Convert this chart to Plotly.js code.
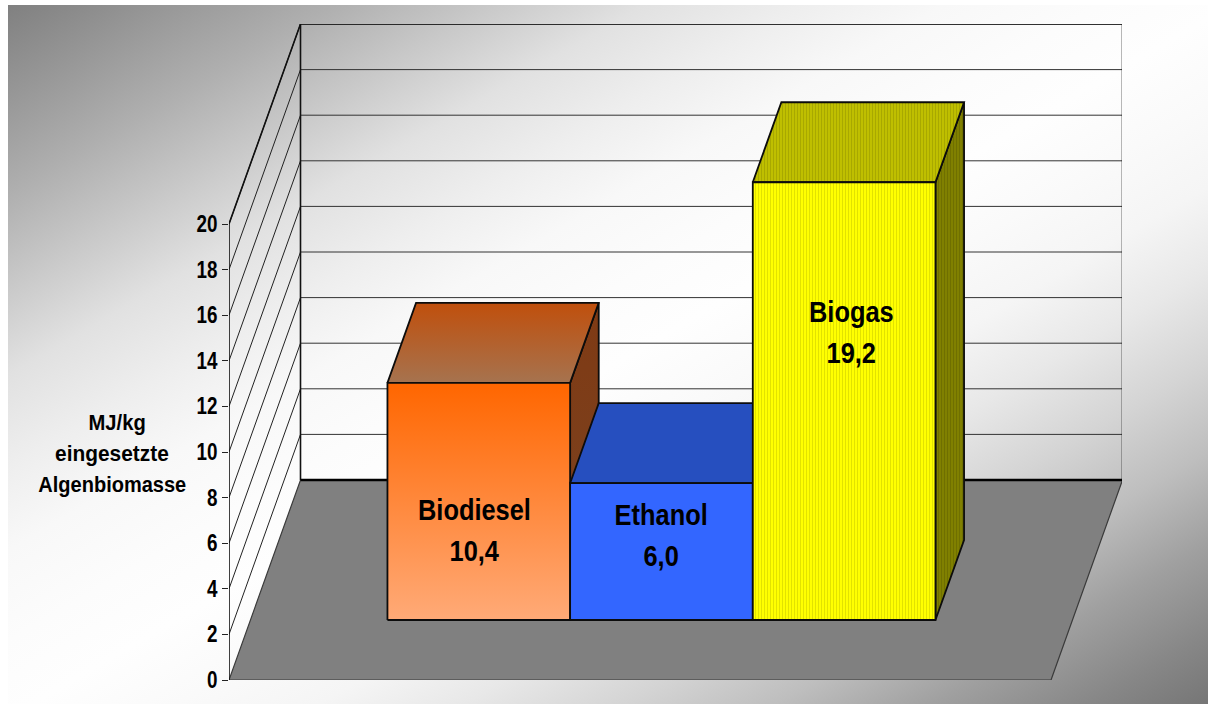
<!DOCTYPE html>
<html>
<head>
<meta charset="utf-8">
<script src="https://cdn.plot.ly/plotly-3.0.1.min.js"></script>
<style>
  html, body { margin: 0; padding: 0; background: #fff; }
  #chart {
    width: 1208px; height: 704px;
    background-image: linear-gradient(to bottom right,
      #808080 0%, #afafaf 13.5%, #c8c8c8 20%, #e1e1e1 26.5%, #eeeeee 33%, #f8f8f8 39%, #fcfcfc 45.5%,
      #fefefe 51%, #fafafa 57%, #f5f5f5 63%, #e8e8e8 69%, #d4d4d4 75.7%, #bebebe 82%, #a0a0a0 88.5%, #878787 95%, #767676 100%);
    background-repeat: no-repeat;
    background-position: 8px 5px;
    background-size: 1200px 699px;
  }
</style>
</head>
<body>
<div id="chart"></div>
<script>
// Energy yield per kg of algal biomass, one column per fuel
const categories = ['Biodiesel', 'Ethanol', 'Biogas'];
const values = [10.4, 6.0, 19.2];
const tickValues = [0, 2, 4, 6, 8, 10, 12, 14, 16, 18, 20];
const axisLabelLines = ['MJ/kg', 'eingesetzte', 'Algenbiomasse'];

// Height (axis units) and sideways offset of each in-column caption
const captionHeights = [3.9, 3.7, 12.6];
const captionShifts = [-0.024, 0, 0.04];

// Horizontal centre and squeeze of each line of the axis label
const axisLabelCentres = [117, 112, 112];
const axisLabelSqueeze = [0.92, 0.95, 0.91];

const frontGradients = [
  { colorscale: [[0, '#ffaa77'], [1, '#ff6600']] },
  { solid: '#3366ff' },
  { pattern: '#ffff00', dots: '#e2e200' }
];
const topGradients = [
  { colorscale: [[0, '#a6734f'], [1, '#c04f0c']] },
  { solid: '#264fbf' },
  { pattern: '#bfbf00', dots: '#a8a800' }
];
const sideGradients = [
  { colorscale: [[0, '#7a4422'], [1, '#7f3a14']] },
  { solid: '#1c3c8f' },
  { pattern: '#808000', dots: '#6f6f00' }
];

// Oblique projection of the box: a point at depth d (0 front, 1 back) is
// shifted right and up in axis units.
const DEPTH_X = 0.3914;
const DEPTH_Y = 8.772;
const FLOOR_WIDTH = 4.5;
const COLUMN_START = 0.75;
const COLUMN_DEPTH = [0.3, 0.7];
const AXIS_MAX = 20;

const px = (u, d) => u + DEPTH_X * d;
const py = (v, d) => v + DEPTH_Y * d;

function face(points, paint, lineColor, lineWidth) {
  const t = {
    x: points.map(p => px(p[0], p[2])),
    y: points.map(p => py(p[1], p[2])),
    mode: 'lines',
    fill: 'toself',
    hoverinfo: 'skip',
    cliponaxis: false,
    showlegend: false,
    line: { color: lineColor || '#0c0c0c', width: lineWidth === undefined ? 1.8 : lineWidth }
  };
  if (paint.colorscale) {
    t.fillgradient = { type: 'vertical', colorscale: paint.colorscale };
  } else if (paint.pattern) {
    t.fillcolor = paint.pattern;
    t.fillpattern = { shape: '|', size: 3, solidity: 0.34, bgcolor: paint.pattern, fgcolor: paint.dots, fgopacity: 1 };
  } else {
    t.fillcolor = paint.solid;
  }
  return t;
}

function polyline(segments, color, width) {
  const x = [], y = [];
  segments.forEach(seg => {
    seg.forEach(p => { x.push(px(p[0], p[2])); y.push(py(p[1], p[2])); });
    x.push(null); y.push(null);
  });
  return {
    x, y, mode: 'lines', hoverinfo: 'skip', cliponaxis: false, showlegend: false,
    line: { color, width }
  };
}

const traces = [];

// Floor
traces.push(face(
  [[0, 0, 0], [0, 0, 1], [FLOOR_WIDTH, 0, 1], [FLOOR_WIDTH, 0, 0], [0, 0, 0]],
  { solid: '#808080' }, '#3a3a3a', 1.2
));

// Wall gridlines: back wall and the left side wall
const grid = tickValues.filter(v => v > 0);
traces.push(polyline(grid.map(v => [[0, v, 1], [FLOOR_WIDTH, v, 1]]), '#333333', 1));
traces.push(polyline(grid.map(v => [[0, v, 0], [0, v, 1]]), '#222222', 1));

// Wall outlines and the heavy back edge of the floor
traces.push(polyline([
  [[0, 0, 0], [0, AXIS_MAX, 0], [0, AXIS_MAX, 1], [FLOOR_WIDTH, AXIS_MAX, 1], [FLOOR_WIDTH, 0, 1]],
  [[0, 0, 1], [0, AXIS_MAX, 1]]
], '#111111', 1.6));
traces.push(polyline([[[0, 0, 1], [FLOOR_WIDTH, 0, 1]]], '#000000', 2.4));

// Columns, left to right so each one overlaps the previous one's side
categories.forEach((name, i) => {
  const a = COLUMN_START + i, b = a + 1;
  const v = values[i];
  const [d0, d1] = COLUMN_DEPTH;
  traces.push(face([[b, 0, d0], [b, 0, d1], [b, v, d1], [b, v, d0], [b, 0, d0]], sideGradients[i]));
  traces.push(face([[a, v, d0], [a, v, d1], [b, v, d1], [b, v, d0], [a, v, d0]], topGradients[i]));
  traces.push(face([[a, 0, d0], [b, 0, d0], [b, v, d0], [a, v, d0], [a, 0, d0]], frontGradients[i]));
});

const fontFamily = '"Liberation Sans", Arial, sans-serif';
const columnFont = { family: fontFamily, size: 29, color: '#000' };
const labelFont = { family: fontFamily, size: 22, color: '#000' };

const annotations = [];
categories.forEach((name, i) => {
  const cx = px(COLUMN_START + i + 0.5 + captionShifts[i], COLUMN_DEPTH[0]);
  const cy = py(captionHeights[i], COLUMN_DEPTH[0]);
  [['<b>' + name + '</b>', 21], ['<b>' + values[i].toFixed(1).replace('.', ',') + '</b>', -20]].forEach(row => {
    annotations.push({
      x: cx, y: cy, xref: 'x', yref: 'y', text: row[0], showarrow: false,
      xanchor: 'center', yanchor: 'middle', yshift: row[1], font: columnFont
    });
  });
});
axisLabelLines.forEach((line, i) => {
  annotations.push({
    x: (axisLabelCentres[i] - 229) / 893, y: (680 - (422 + 31 * i)) / 656, xref: 'paper', yref: 'paper',
    text: '<b>' + line + '</b>', showarrow: false, xanchor: 'center', yanchor: 'middle', font: labelFont
  });
});

const layout = {
  width: 1208, height: 704,
  margin: { l: 229, r: 86, t: 24, b: 24, pad: 0 },
  paper_bgcolor: 'rgba(0,0,0,0)',
  plot_bgcolor: 'rgba(0,0,0,0)',
  showlegend: false,
  xaxis: { range: [0, 893 / 182.67], visible: false, fixedrange: true },
  yaxis: {
    range: [0, 656 / 22.8], fixedrange: true, showgrid: false, zeroline: false, showline: false,
    tickmode: 'array', tickvals: tickValues, ticktext: tickValues.map(v => '<b>' + v + '</b>'),
    ticks: 'outside', ticklen: 6, tickwidth: 1, tickcolor: '#222',
    tickfont: { family: fontFamily, size: 23, color: '#000' }
  },
  annotations
};

// The typeface is set condensed: squeeze each label horizontally about an anchor
function condense(node, factor, anchorShare) {
  const box = node.getBBox();
  const ax = box.x + box.width * anchorShare;
  const prior = node.getAttribute('transform') || '';
  node.setAttribute('transform', prior + ' translate(' + ax + ',0) scale(' + factor + ',1) translate(' + (-ax) + ',0)');
}

Plotly.newPlot('chart', traces, layout, { staticPlot: true, displayModeBar: false }).then(gd => {
  const captionCount = categories.length * 2;
  gd.querySelectorAll('.annotation-text').forEach((node, i) => {
    condense(node, i < captionCount ? 0.876 : axisLabelSqueeze[i - captionCount], 0.5);
  });
  gd.querySelectorAll('.ytick text').forEach(node => condense(node, 0.82, 1));
});
</script>
</body>
</html>
